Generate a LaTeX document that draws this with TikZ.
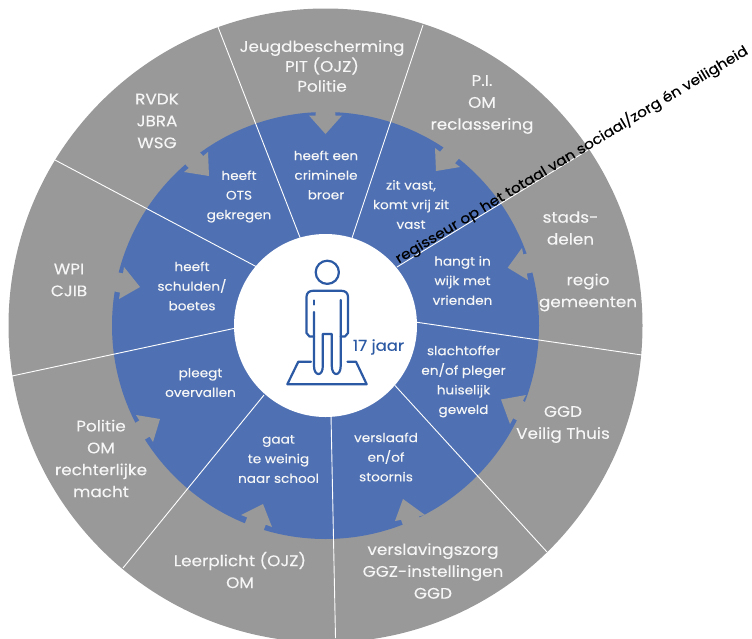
\documentclass[tikz,border=0pt]{standalone}
\usepackage{fontspec}
\setmainfont{Poppins}[FakeStretch=1.1]
\usetikzlibrary{calc}
\definecolor{ringgray}{HTML}{999999}
\definecolor{ringblue}{HTML}{4F71B3}
\definecolor{figblue}{HTML}{2C59A3}
\definecolor{txtwhite}{HTML}{F6F6F6}
\tikzset{
  outerlbl/.style={text=txtwhite,align=center,inner sep=0pt,font=\fontsize{15.3}{21.9}\selectfont\addfontfeature{FakeBold=0.15}},
  innerlbl/.style={text=txtwhite,align=center,inner sep=0pt,font=\fontsize{12.4}{19.6}\selectfont\addfontfeature{FakeBold=0.15}},
  spoke/.style={draw=white,line width=0.9pt},
  figline/.style={draw=figblue,line width=2.2pt,line cap=round,line join=round},
}
% W1, W2, tip of a notch (arrow pointing inward into the blue ring)
\newcommand{\notchshape}[6]{%
  \pgfmathsetmacro{\mx}{(#1+#3)/2}\pgfmathsetmacro{\my}{(#2+#4)/2}%
  \pgfmathsetmacro{\ox}{(\mx-#5)*0.45}\pgfmathsetmacro{\oy}{(\my-#6)*0.45}%
  \pgfmathsetmacro{\ax}{#1+(#3-#1)*0.2}\pgfmathsetmacro{\ay}{#2+(#4-#2)*0.2}%
  \pgfmathsetmacro{\bx}{#1+(#3-#1)*0.8}\pgfmathsetmacro{\by}{#2+(#4-#2)*0.8}%
  \fill[ringgray] (#1,#2) -- (\ax,\ay) -- (\ax+\ox,\ay+\oy) -- (\bx+\ox,\by+\oy) -- (\bx,\by) -- (#3,#4) -- (#5,#6) -- cycle;%
}
\begin{document}
\begin{tikzpicture}[x=1pt,y=-1pt]
\useasboundingbox (0,0) rectangle (752,638);
\begin{scope}
\clip (0,0) rectangle (752,638);
\fill[ringgray] (325.5,325.5) circle[radius=317];
\end{scope}
\fill[ringblue] (325.5,325.5) circle[radius=213.5];
% notches
\notchshape{309}{115.5}{342}{115.5}{325.5}{134}
\notchshape{435}{148}{460}{167}{436}{171}
\notchshape{522}{248}{528}{280}{507.7}{267.7}
\notchshape{526}{395}{510}{424}{501}{399.5}
\notchshape{425}{515}{395}{521}{403}{499}
\notchshape{241}{515}{272}{527}{263}{504}
\notchshape{136}{415}{153}{442}{160}{419}
\notchshape{124}{267}{119}{299}{140}{287}
\notchshape{208}{152}{184}{172}{209}{176}
% spokes
\draw[spoke] (218,27) -- (301,240);
\draw[spoke] (423,25) -- (352,238);
\draw[spoke] (397,267) -- (588,150);
\draw[spoke] (415,322) -- (642,355);
\draw[spoke] (395,385.5) -- (547,552);
\draw[spoke] (331,415) -- (335.5,638);
\draw[spoke] (264,395) -- (123,568);
\draw[spoke] (236,328) -- (12,376);
\draw[spoke] (257,267) -- (55,160);
% centre
\fill[white] (325.5,325.5) circle[radius=91.5];
% figure
\draw[figline] (327.3,272.3) circle[radius=11.6];
\draw[figline] (314,336.5) -- (309.5,336.5) -- (306.5,333) -- (306.5,297) .. controls (306.5,293) and (309,290.8) .. (313,290.8) -- (341.5,290.8) .. controls (345.5,290.8) and (348,293) .. (348,297) -- (348,333) -- (345,336.5) -- (340.7,336.5);
\draw[figline] (314,300.5) -- (314,304.5);
\draw[figline] (314,312) -- (314,366) .. controls (314,371) and (316,374) .. (318.5,374) .. controls (321,374) and (322.8,371) .. (322.8,366) -- (322.8,334) -- (331.8,334) -- (331.8,366) .. controls (331.8,371) and (333.8,374) .. (336.2,374) .. controls (338.7,374) and (340.7,371) .. (340.7,366) -- (340.7,300);
\draw[figline] (311,361.7) -- (298.3,361.7) -- (287.3,384.3) -- (366.7,384.3) -- (356,361.7) -- (347.5,361.7);
\node[text=figblue,inner sep=0pt,font=\fontsize{15}{18}\selectfont\addfontfeature{FakeBold=0.3}] (age) at (378.5,347) {17 jaar};
% outer labels
\node[outerlbl] (o1) at (322,66) {Jeugdbescherming\\[-2pt]PIT (OJZ)\\[-2pt]Politie};
\node[outerlbl] (o2) at (482,104.5) {P.I.\\OM\\reclassering};
\node[outerlbl] (o3a) at (570.5,228) {stads-\\delen};
\node[outerlbl] (o3b) at (588,292.5) {regio\\gemeenten};
\node[outerlbl] (o4) at (563,424.5) {GGD\\Veilig Thuis};
\node[outerlbl] (o5) at (433,571) {verslavingszorg\\GGZ-instellingen\\GGD};
\node[outerlbl] (o6) at (240,570) {Leerplicht (OJZ)\\OM};
\node[outerlbl] (o7) at (101,458.5) {Politie\\OM\\rechterlijke\\macht};
\node[outerlbl] (o8) at (69,280) {WPI\\CJIB};
\node[outerlbl] (o9) at (157,121) {RVDK\\JBRA\\WSG};
% inner labels
\node[innerlbl] (i1) at (326,175) {heeft een\\criminele\\broer};
\node[innerlbl] (i2) at (411,204.5) {zit vast,\\komt vrij zit\\vast};
\node[innerlbl] (i3) at (462.5,280.5) {hangt in\\wijk met\\vrienden};
\node[innerlbl] (i4) at (463.5,381.5) {slachtoffer\\en/of pleger\\huiselijk\\geweld};
\node[innerlbl] (i5) at (386,457) {verslaafd\\en/of\\stoornis};
\node[innerlbl] (i6) at (278.5,459) {gaat\\te weinig\\naar school};
\node[innerlbl] (i7) at (200.5,382.5) {pleegt\\overvallen};
\node[innerlbl] (i8) at (192,286) {heeft\\schulden/\\boetes};
\node[innerlbl] (i9) at (239,196.5) {heeft\\OTS\\gekregen};
% regisseur
\node[text=black,inner sep=0pt,rotate=31,font=\fontsize{14}{15}\selectfont\addfontfeature{FakeBold=0.2}] (reg) at (571.5,154.5) {regisseur op het totaal van sociaal/zorg én veiligheid};
\end{tikzpicture}
\end{document}
